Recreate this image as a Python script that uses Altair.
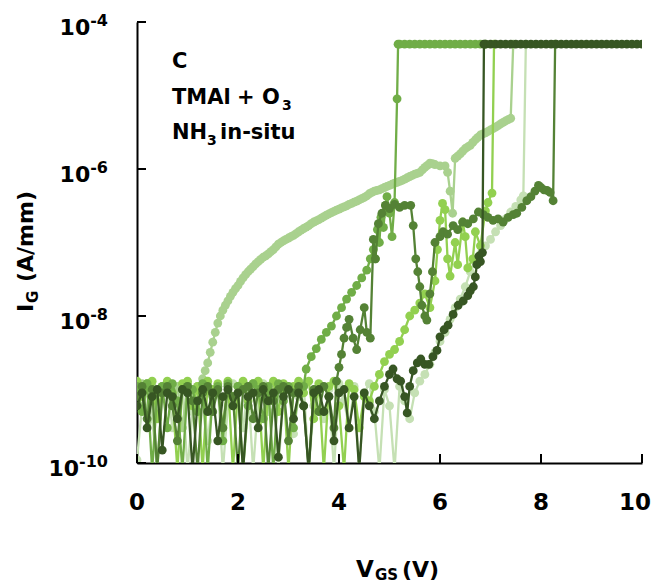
import altair as alt
import pandas as pd

# ---------------- data ----------------
X_GRID = [0.0, 0.1, 0.2, 0.3, 0.4, 0.5, 0.6, 0.7, 0.8, 0.9,
          1.0, 1.1, 1.2, 1.3, 1.4, 1.5, 1.6, 1.7, 1.8, 1.9,
          2.0, 2.1, 2.2, 2.3, 2.4, 2.5, 2.6, 2.7, 2.8, 2.9,
          3.0, 3.1, 3.2, 3.3, 3.4, 3.5, 3.6, 3.7, 3.8, 3.9,
          4.0, 4.1, 4.2, 4.3, 4.4, 4.5, 4.6, 4.7, 4.8, 4.9,
          5.0, 5.1, 5.2, 5.3, 5.4, 5.5, 5.6, 5.7, 5.8, 5.9,
          6.0, 6.1, 6.2, 6.3, 6.4, 6.5, 6.6, 6.7, 6.8, 6.9,
          7.0, 7.1, 7.2, 7.3, 7.4, 7.5, 7.6, 7.7, 7.8, 7.9,
          8.0, 8.1, 8.2, 8.3, 8.4, 8.5, 8.6, 8.7, 8.8, 8.9,
          9.0, 9.1, 9.2, 9.3, 9.4, 9.5, 9.6, 9.7, 9.8, 9.9, 10.0]

SERIES_NAMES = ["s1", "s2", "s3", "s4", "s5", "s6"]
SERIES_COLORS = ["#C5E0B4", "#A9D18E", "#92D050", "#70AD47", "#548235", "#375623"]

# noise floor, one value per X_GRID step starting at 0 V (A/mm)
S1_NOISE = [1.1e-10, 6e-10, 1.1e-9, 4e-10, 8e-11, 9e-10, 1.2e-9, 3e-10, 7e-10, 1.1e-9,
            8e-11, 5e-10, 1e-9, 1.2e-9, 2e-10, 8e-10, 1.1e-9, 8e-11, 6e-10, 1.2e-9,
            9e-10, 3e-10, 1.1e-9, 8e-11, 7e-10, 1.2e-9, 5e-10, 1e-9, 8e-11, 9e-10,
            1.1e-9, 2.5e-10, 8e-10, 1.2e-9, 8e-11, 6e-10, 1.1e-9, 4e-10, 1e-9, 8e-11,
            1.2e-9, 7e-10, 3e-10, 1.1e-9, 8e-11, 9e-10, 1.2e-9, 5e-10, 8e-11, 1e-9,
            6e-10, 8e-11, 1.1e-9]
S2_NOISE = [9e-10, 1.2e-9, 5e-10, 1.1e-9, 8e-11, 1e-9, 1.2e-9, 6e-10, 1.1e-9, 3e-10,
            1.2e-9, 9e-10, 1.1e-9]
S3_NOISE = [1.3e-9, 8e-10, 1.2e-9, 1.3e-9, 4e-10, 1.1e-9, 1.3e-9, 9e-10, 8e-11, 1.2e-9,
            1.3e-9, 6e-10, 1.1e-9, 8e-11, 1.3e-9, 1e-9, 1.2e-9, 3e-10, 1.3e-9, 8e-11,
            1.1e-9, 1.3e-9, 7e-10, 1.2e-9, 1.3e-9, 8e-11, 1e-9, 1.3e-9, 5e-10, 1.2e-9,
            8e-11, 1.1e-9, 1.3e-9, 9e-10, 1.3e-9, 4e-10, 1.2e-9, 8e-11, 1.1e-9, 1.3e-9,
            6e-10, 8e-11, 1.2e-9, 1e-9, 3e-10, 8e-10]
S4_NOISE = [1.1e-9, 5e-10, 1.2e-9, 8e-11, 9e-10, 1.1e-9, 3e-10, 1.2e-9, 7e-10, 8e-11,
            1.1e-9, 1e-9, 5e-10, 1.2e-9, 8e-11, 9e-10, 1.1e-9, 2e-10, 1.2e-9, 8e-10,
            1.1e-9, 8e-11, 6e-10, 1.2e-9, 1e-9, 4e-10, 1.1e-9, 8e-11, 1.2e-9, 7e-10,
            1.1e-9, 3e-10, 9e-10]
S5_NOISE = [8e-10, 1.1e-9, 4e-10, 1e-9, 8e-11, 9e-10, 1.1e-9, 6e-10, 2e-10, 1e-9,
            1.1e-9, 7e-10, 8e-11, 9e-10, 1.1e-9, 5e-10, 1e-9, 3e-10, 1.1e-9, 8e-10,
            8e-11, 1e-9, 1.1e-9, 4e-10, 9e-10, 1.1e-9, 8e-11, 7e-10, 1e-9, 1.1e-9,
            2e-10, 9e-10, 1.1e-9, 6e-10, 8e-11, 1e-9, 5e-10, 1.1e-9, 8e-10, 3e-10]
S6_NOISE = [6e-10, 9e-10, 3e-10, 8e-10, 1e-9, 1.5e-10, 9e-10, 8e-10, 4e-10, 1e-9,
            9e-10, 8e-11, 7e-10, 1e-9, 5e-10, 9e-10, 2e-10, 8e-10, 1e-9, 6e-10,
            9e-10, 8e-11, 8e-10, 9e-10, 3e-10, 1e-9, 7e-10, 9e-10, 1.2e-10, 8e-10,
            1e-9, 4e-10, 9e-10, 6e-10, 8e-11, 9e-10, 1e-9, 5e-10, 8e-10, 2e-10,
            9e-10, 1e-9, 3e-10, 8e-10, 8e-11, 9e-10, 6e-10, 4e-10, 7e-10]

# rising part up to the jump to compliance: (V_GS, I_G)
S1_RISE = [(5.3, 7e-10), (5.4, 4e-10), (5.5, 9e-10), (5.6, 1.3e-9), (5.7, 1.6e-9),
           (5.8, 2.2e-9), (5.9, 3.2e-9), (6.0, 4.5e-9), (6.1, 6e-9), (6.2, 9e-9),
           (6.3, 1.3e-8), (6.4, 1.7e-8), (6.5, 2.5e-8), (6.6, 4e-8), (6.7, 5.5e-8),
           (6.8, 7e-8), (6.9, 9e-8), (7.0, 1.1e-7), (7.1, 1.4e-7), (7.2, 1.7e-7),
           (7.3, 2.1e-7), (7.4, 2.6e-7), (7.5, 3.1e-7), (7.6, 3.8e-7), (7.65, 4.3e-7),
           (7.7, 5e-5)]
S2_RISE = [(1.3, 1.4e-9), (1.35, 1.8e-9), (1.4, 2.3e-9), (1.45, 3.2e-9), (1.5, 4.4e-9),
           (1.55, 6e-9), (1.6, 8e-9), (1.65, 1e-8), (1.7, 1.2e-8), (1.75, 1.4e-8),
           (1.8, 1.6e-8), (1.85, 1.85e-8), (1.9, 2.1e-8), (1.95, 2.35e-8), (2.0, 2.6e-8),
           (2.05, 2.95e-8), (2.1, 3.3e-8), (2.15, 3.65e-8), (2.2, 4e-8), (2.25, 4.35e-8),
           (2.3, 4.7e-8), (2.35, 5.1e-8), (2.4, 5.5e-8), (2.45, 5.9e-8), (2.5, 6.3e-8),
           (2.55, 6.6e-8), (2.6, 7e-8), (2.65, 7.5e-8), (2.7, 8e-8), (2.75, 8.7e-8),
           (2.8, 9.5e-8), (2.85, 1e-7), (2.9, 1.05e-7), (2.95, 1.1e-7), (3.0, 1.15e-7),
           (3.05, 1.2e-7), (3.1, 1.25e-7), (3.15, 1.32e-7), (3.2, 1.4e-7), (3.25, 1.47e-7),
           (3.3, 1.55e-7), (3.35, 1.62e-7), (3.4, 1.7e-7), (3.45, 1.8e-7), (3.5, 1.9e-7),
           (3.55, 1.97e-7), (3.6, 2.05e-7), (3.65, 2.15e-7), (3.7, 2.25e-7), (3.75, 2.35e-7),
           (3.8, 2.45e-7), (3.85, 2.55e-7), (3.9, 2.65e-7), (3.95, 2.75e-7), (4.0, 2.85e-7),
           (4.05, 2.95e-7), (4.1, 3.05e-7), (4.15, 3.15e-7), (4.2, 3.3e-7), (4.25, 3.4e-7),
           (4.3, 3.55e-7), (4.35, 3.65e-7), (4.4, 3.8e-7), (4.45, 3.95e-7), (4.5, 4.1e-7),
           (4.55, 4.3e-7), (4.6, 4.6e-7), (4.65, 4.8e-7), (4.7, 5e-7), (4.75, 5.1e-7),
           (4.8, 5.2e-7), (4.85, 5.4e-7), (4.9, 5.6e-7), (4.95, 5.8e-7), (5.0, 6e-7),
           (5.05, 6.2e-7), (5.1, 6.4e-7), (5.15, 6.6e-7), (5.2, 6.8e-7), (5.25, 7e-7),
           (5.3, 7.3e-7), (5.35, 7.6e-7), (5.4, 7.9e-7), (5.45, 8.2e-7), (5.5, 8.5e-7),
           (5.55, 8.7e-7), (5.6, 9e-7), (5.65, 9.7e-7), (5.7, 1.05e-6), (5.75, 1.12e-6),
           (5.8, 1.2e-6), (5.85, 1.18e-6), (5.9, 1.15e-6), (6.0, 1.1e-6), (6.1, 1.1e-6),
           (6.15, 9e-7), (6.2, 5e-7), (6.25, 2.5e-7), (6.3, 1.4e-6), (6.35, 1.5e-6),
           (6.4, 1.6e-6), (6.45, 1.75e-6), (6.5, 1.9e-6), (6.55, 2e-6), (6.6, 2.1e-6),
           (6.65, 2.3e-6), (6.7, 2.5e-6), (6.75, 2.7e-6), (6.8, 2.9e-6), (6.85, 3e-6),
           (6.9, 3.1e-6), (6.95, 3.25e-6), (7.0, 3.4e-6), (7.05, 3.55e-6), (7.1, 3.7e-6),
           (7.15, 3.9e-6), (7.2, 4.1e-6), (7.25, 4.3e-6), (7.3, 4.5e-6), (7.35, 4.7e-6),
           (7.4, 4.9e-6), (7.45, 5e-5)]
S3_RISE = [(4.6, 7e-10), (4.7, 1.1e-9), (4.8, 1.6e-9), (4.9, 2.4e-9), (5.0, 3e-9),
           (5.1, 3.5e-9), (5.2, 4.5e-9), (5.3, 6.5e-9), (5.4, 1e-8), (5.5, 1.2e-8),
           (5.6, 1.5e-8), (5.7, 2e-8), (5.8, 1.3e-8), (5.9, 3e-8), (5.95, 8e-8),
           (6.0, 2e-7), (6.05, 3.4e-7), (6.1, 2.8e-7), (6.15, 6e-8), (6.2, 3.5e-8),
           (6.3, 1e-7), (6.35, 5e-8), (6.45, 1.9e-7), (6.5, 1.2e-7), (6.55, 4.5e-8),
           (6.65, 6e-8), (6.7, 1.4e-7), (6.8, 9e-8), (6.9, 2.7e-7), (6.95, 3.5e-7),
           (7.03, 4.7e-7), (7.07, 5e-5)]
S4_RISE = [(3.3, 1.1e-9), (3.35, 1.9e-9), (3.45, 2.8e-9), (3.55, 3.6e-9), (3.65, 4.8e-9),
           (3.75, 6e-9), (3.85, 7.3e-9), (3.95, 1e-8), (4.05, 1.3e-8), (4.15, 1.7e-8),
           (4.25, 2.1e-8), (4.35, 2.6e-8), (4.45, 3.3e-8), (4.55, 4.2e-8), (4.62, 6e-8),
           (4.68, 8e-8), (4.72, 6e-8), (4.76, 1.5e-7), (4.8, 1e-7), (4.83, 2.2e-7),
           (4.88, 1.6e-7), (4.92, 3.2e-7), (4.95, 4.2e-7), (5.0, 2.5e-7), (5.05, 1.2e-7),
           (5.1, 3.5e-7), (5.15, 9e-6), (5.17, 5e-5)]
S5_RISE = [(3.95, 1.3e-9), (4.0, 2e-9), (4.05, 3e-9), (4.1, 5e-9), (4.15, 7e-9),
           (4.2, 9e-9), (4.28, 5e-9), (4.35, 3.5e-9), (4.42, 6.5e-9), (4.5, 1.3e-8),
           (4.55, 6e-9), (4.62, 5e-9), (4.68, 1.1e-7), (4.72, 6e-8), (4.78, 1.8e-7),
           (4.85, 2.5e-7), (4.92, 3.2e-7), (5.0, 2.9e-7), (5.1, 3.3e-7), (5.2, 3e-7),
           (5.3, 3.2e-7), (5.42, 3.2e-7), (5.47, 1.7e-7), (5.52, 6e-8), (5.56, 4e-8),
           (5.6, 2.5e-8), (5.64, 1.4e-8), (5.7, 1e-8), (5.74, 8.8e-9), (5.8, 2e-8),
           (5.85, 4e-8), (5.9, 1e-7), (6.0, 1.2e-7), (6.06, 1.4e-7), (6.15, 1.3e-7),
           (6.26, 1.7e-7), (6.35, 1.5e-7), (6.45, 1.9e-7), (6.55, 1.8e-7), (6.66, 2.1e-7),
           (6.76, 2.6e-7), (6.86, 2.4e-7), (6.95, 2.2e-7), (7.05, 2e-7), (7.15, 2.1e-7),
           (7.25, 1.9e-7), (7.35, 2.2e-7), (7.45, 2.4e-7), (7.52, 2.5e-7), (7.62, 3e-7),
           (7.72, 3.7e-7), (7.8, 4.2e-7), (7.88, 5e-7), (7.95, 6e-7), (8.0, 5.6e-7),
           (8.06, 5.2e-7), (8.12, 5.1e-7), (8.18, 4.8e-7), (8.24, 3.7e-7), (8.28, 5e-5)]
S6_RISE = [(4.9, 1.1e-9), (5.0, 1.6e-9), (5.07, 1.9e-9), (5.15, 1.4e-9), (5.22, 1.3e-9),
           (5.3, 8e-10), (5.35, 4.8e-10), (5.4, 1.1e-9), (5.47, 1.8e-9), (5.55, 2.3e-9),
           (5.62, 2.6e-9), (5.7, 2.2e-9), (5.78, 2.2e-9), (5.86, 2.8e-9), (5.94, 3.4e-9),
           (6.0, 5.2e-9), (6.08, 6.5e-9), (6.16, 7.5e-9), (6.26, 1.05e-8), (6.36, 1.4e-8),
           (6.46, 1.6e-8), (6.55, 1.9e-8), (6.6, 2.2e-8), (6.66, 2.5e-8), (6.7, 3.4e-8),
           (6.73, 5e-8), (6.77, 6.5e-8), (6.8, 5.5e-8), (6.84, 7.3e-8), (6.87, 5e-5)]

# compliance plateau (A/mm), on X_GRID from the given start voltage
S4_PLATEAU_START = 5.2
S4_PLATEAU = [5e-5, 5e-5, 5e-5, 5e-5, 5e-5, 5e-5, 5e-5, 5e-5, 5e-5, 5e-5,
              5e-5, 5e-5, 5e-5, 5e-5, 5e-5, 5e-5, 5e-5, 5e-5]
S6_PLATEAU_START = 6.9
S6_PLATEAU = [5e-5, 5e-5, 5e-5, 5e-5, 5e-5, 5e-5, 5e-5, 5e-5, 5e-5, 5e-5,
              5e-5, 5e-5, 5e-5, 5e-5, 5e-5, 5e-5, 5e-5, 5e-5, 5e-5, 5e-5,
              5e-5, 5e-5, 5e-5, 5e-5, 5e-5, 5e-5, 5e-5, 5e-5, 5e-5, 5e-5,
              5e-5, 5e-5]

X_TICKS = [0, 2, 4, 6, 8, 10]
Y_TICKS = [1e-10, 1e-8, 1e-6, 1e-4]
Y_TICK_EXP = ["-10", "-8", "-6", "-4"]

# ---------------- build ----------------
def plateau(start, vals):
    xs = [x for x in X_GRID if x >= start - 1e-9]
    return list(zip(xs, vals))

SERIES_POINTS = [
    list(zip(X_GRID, S1_NOISE)) + S1_RISE,
    list(zip(X_GRID, S2_NOISE)) + S2_RISE,
    list(zip(X_GRID, S3_NOISE)) + S3_RISE,
    list(zip(X_GRID, S4_NOISE)) + S4_RISE + plateau(S4_PLATEAU_START, S4_PLATEAU),
    list(zip(X_GRID, S5_NOISE)) + S5_RISE,
    list(zip(X_GRID, S6_NOISE)) + S6_RISE + plateau(S6_PLATEAU_START, S6_PLATEAU),
]

W, H = 505, 441
FONT = "DejaVu Sans"

XS = alt.Scale(domain=[0, 10], nice=False, zero=False)
YS = alt.Scale(type="log", domain=[1e-10, 1e-4], nice=False)
XA = alt.Axis(labels=False, ticks=False, grid=False, domainColor="#000000",
              domainWidth=2, title="")
YA = alt.Axis(labels=False, ticks=False, grid=False, domainColor="#000000",
              domainWidth=2, title="")

layers = []
for name, color, pts in zip(SERIES_NAMES, SERIES_COLORS, SERIES_POINTS):
    d = pd.DataFrame({"x": [p[0] for p in pts], "y": [p[1] for p in pts],
                      "k": list(range(len(pts)))})
    base = alt.Chart(d)
    layers.append(base.mark_line(color=color, strokeWidth=2.3, clip=True).encode(
        x=alt.X("x:Q", scale=XS, axis=XA),
        y=alt.Y("y:Q", scale=YS, axis=YA),
        order="k:Q"))
    layers.append(base.mark_circle(color=color, size=78, opacity=1, clip=True).encode(
        x=alt.X("x:Q", scale=XS, axis=XA),
        y=alt.Y("y:Q", scale=YS, axis=YA)))

# inward ticks
xt = pd.DataFrame({"v": X_TICKS, "lab": [str(v) for v in X_TICKS]})
layers.append(alt.Chart(xt).mark_rule(color="#000000", strokeWidth=2).encode(
    x=alt.X("v:Q", scale=XS, axis=XA), y=alt.value(H), y2=alt.value(H - 9)))
yt = pd.DataFrame({"v": Y_TICKS, "exp": Y_TICK_EXP})
layers.append(alt.Chart(yt).mark_rule(color="#000000", strokeWidth=2).encode(
    y=alt.Y("v:Q", scale=YS, axis=YA), x=alt.value(0), x2=alt.value(9)))

# x tick labels (the last one kept inside the page)
xt_in = xt[xt["v"] < 10]
xt_last = xt[xt["v"] == 10]
layers.append(alt.Chart(xt_in).mark_text(font=FONT, fontWeight="bold", fontSize=23,
                                         color="#000000", baseline="alphabetic",
                                         align="center").encode(
    x=alt.X("v:Q", scale=XS, axis=XA), y=alt.value(488), text="lab:N"))
layers.append(alt.Chart(xt_last).mark_text(font=FONT, fontWeight="bold", fontSize=23,
                                           color="#000000", baseline="alphabetic",
                                           align="right").encode(
    x=alt.value(W + 9), y=alt.value(488), text="lab:N"))

# y tick labels: "10" + superscript exponent, right edge of the whole label fixed
SUP_SIZE = 16
LAB_RIGHT = -29
for v, e in zip(Y_TICKS, Y_TICK_EXP):
    sup_w = SUP_SIZE * (0.415 + 0.696 * (len(e) - 1))
    one_t = pd.DataFrame({"v": [v], "exp": [e]})
    layers.append(alt.Chart(one_t).mark_text(font=FONT, fontWeight="bold", fontSize=22,
                                             color="#000000", baseline="alphabetic",
                                             align="right", dy=13).encode(
        y=alt.Y("v:Q", scale=YS, axis=YA), x=alt.value(LAB_RIGHT - sup_w),
        text=alt.value("10")))
    layers.append(alt.Chart(one_t).mark_text(font=FONT, fontWeight="bold",
                                             fontSize=SUP_SIZE, color="#000000",
                                             baseline="alphabetic", align="right",
                                             dy=4).encode(
        y=alt.Y("v:Q", scale=YS, axis=YA), x=alt.value(LAB_RIGHT), text="exp:N"))

# free text pieces
one = pd.DataFrame({"a": [0]})
def txt(t, x, y, size, angle=0):
    kw = dict(font=FONT, fontWeight="bold", fontSize=size, color="#000000",
              baseline="alphabetic", align="left")
    if angle:
        kw["angle"] = angle
    return alt.Chart(one).mark_text(**kw).encode(
        x=alt.value(x), y=alt.value(y), text=alt.value(t))

layers += [
    txt("C", 35, 46, 21),
    txt("TMAl", 35, 82, 21),
    txt("+", 100, 82, 21),
    txt("O", 125, 82, 21),
    txt("3", 145, 88, 14),
    txt("NH", 35, 117, 21),
    txt("3", 70, 123, 14),
    txt("in-situ", 83, 117, 21),
    # x title
    txt("V", 219, 555, 23),
    txt("GS", 238, 558, 15),
    txt("(V)", 265, 555, 22),
    # y title (rotated, reads bottom to top)
    txt("I", -104, 290, 22, 270),
    txt("G", -99, 281, 15, 270),
    txt("(A/mm)", -104, 260, 22, 270),
]

chart = alt.layer(*layers).properties(
    width=W, height=H,
    padding={"left": 129, "top": 14, "right": 10, "bottom": 121},
    autosize=alt.AutoSizeParams(type="none"),
).configure_view(stroke=None)

chart.save("out.html", embed_options={"renderer": "svg", "actions": False})
